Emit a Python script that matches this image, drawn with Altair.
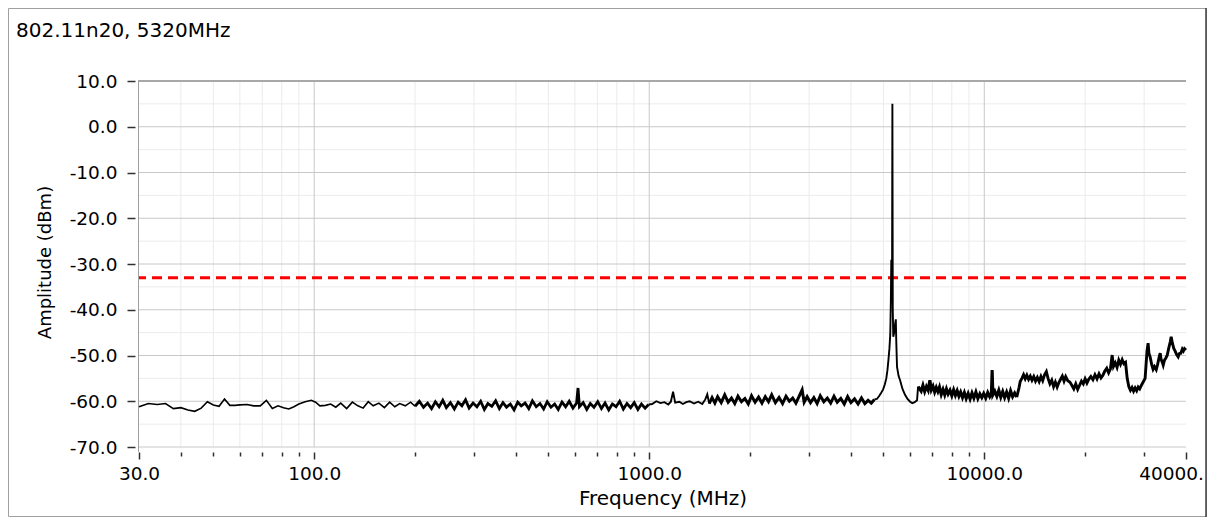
import altair as alt
import pandas as pd

# ---------------- data ----------------
title_text = "802.11n20, 5320MHz"
x_title = "Frequency (MHz)"
y_title = "Amplitude (dBm)"

limit_dbm = [-33.0]

x_major_ticks = [30, 100, 1000, 10000, 40000]
x_minor_ticks = [40, 50, 60, 70, 80, 90, 200, 300, 400, 500, 600, 700, 800, 900,
                 2000, 3000, 4000, 5000, 6000, 7000, 8000, 9000, 20000, 30000]
x_major_grid = [100, 1000, 10000]
x_minor_grid = [40, 50, 60, 70, 80, 90, 200, 300, 400, 500, 600, 700, 800, 900,
                2000, 3000, 4000, 5000, 6000, 7000, 8000, 9000, 20000, 30000]
y_major_ticks = [-70, -60, -50, -40, -30, -20, -10, 0, 10]
y_major_grid = [-70, -60, -50, -40, -30, -20, -10, 0]
y_minor_grid = [-65, -55, -45, -35, -25, -15, -5, 5]

# trace (frequency MHz, amplitude dBm), one list per stretch of the sweep
low_band = [(30, -61.2), (32, -60.5), (34, -60.7), (36, -60.5), (38, -61.6), (40, -61.4),
            (42, -61.9), (44, -62.2), (46, -61.5), (48, -60.1), (50, -60.8), (52, -61.1),
            (54, -59.5), (56, -60.9), (58, -60.9), (60, -60.8), (63, -60.7), (66, -61.0),
            (69, -61.0), (72, -59.8), (75, -61.6), (78, -61.0), (81, -61.4), (84, -61.7),
            (87, -61.2), (90, -60.6), (94, -60.1), (98, -59.8), (101, -60.2), (104, -61.0),
            (108, -60.9), (112, -60.6), (116, -61.3), (120, -60.4), (125, -61.6), (130, -60.2),
            (135, -61.0), (140, -61.5), (145, -60.1), (150, -61.0), (156, -60.4), (162, -61.4),
            (168, -60.2), (174, -61.2), (180, -60.5), (187, -61.0), (194, -60.2), (200, -61.1)]

mid_band = [(206, -60.0), (212, -61.3), (218, -60.4), (224, -61.6), (230, -60.1), (236, -61.2),
            (242, -59.8), (248, -61.4), (255, -60.3), (262, -61.7), (269, -60.2), (276, -61.0),
            (283, -59.7), (290, -61.5), (298, -60.4), (306, -61.2), (314, -60.0), (322, -61.8),
            (330, -60.5), (339, -61.1), (348, -59.9), (357, -61.6), (366, -60.3), (375, -61.3),
            (385, -60.6), (395, -61.9), (405, -60.2), (415, -61.0), (426, -60.4), (437, -61.6),
            (448, -59.9), (460, -61.2), (472, -60.5), (484, -61.7), (496, -60.1), (509, -61.3),
            (522, -60.6), (535, -61.8), (549, -60.2), (563, -61.2), (577, -60.0), (592, -61.5),
            (607, -60.4), (613, -57.1), (619, -61.2), (635, -60.3), (651, -61.8), (667, -60.5),
            (684, -61.3), (702, -60.1), (720, -61.6), (738, -60.4), (757, -61.9), (776, -60.6),
            (796, -61.2), (816, -60.0), (837, -61.7), (858, -60.5), (880, -61.4), (902, -60.3),
            (925, -61.8), (948, -60.6), (972, -61.5), (996, -60.7)]

gap_band = [(1020, -60.6), (1050, -60.0), (1080, -60.4), (1110, -60.2), (1140, -60.7),
            (1160, -60.1), (1178, -57.9), (1195, -60.3), (1230, -60.1), (1260, -60.6),
            (1290, -60.2), (1320, -60.0), (1360, -60.5), (1400, -60.1), (1440, -60.6),
            (1470, -59.6), (1490, -58.5), (1510, -60.5)]

upper_band = [(1540, -59.2), (1570, -60.4),
              (1600, -59.0), (1640, -60.3), (1680, -58.6), (1720, -60.2), (1760, -59.3),
              (1800, -60.5), (1840, -58.9), (1885, -60.1), (1930, -59.4), (1975, -60.6),
              (2020, -58.8), (2070, -60.2), (2120, -59.1), (2170, -60.4), (2220, -59.0),
              (2270, -60.1), (2320, -58.6), (2380, -60.3), (2440, -59.2), (2500, -60.5),
              (2560, -58.9), (2620, -60.0), (2680, -59.3), (2740, -60.4), (2810, -58.7),
              (2860, -57.5), (2900, -60.2), (2960, -59.0), (3030, -60.3), (3100, -59.2),
              (3170, -60.5), (3240, -58.8), (3320, -60.1), (3400, -59.3), (3480, -60.4),
              (3560, -58.9), (3640, -60.2), (3730, -59.4), (3820, -60.6), (3910, -59.0),
              (4000, -60.3), (4100, -59.5), (4200, -60.6), (4300, -59.3), (4400, -60.5),
              (4500, -59.8), (4600, -60.4), (4700, -59.6)]

carrier_peak = [(4780, -59.5), (4850, -58.9), (4920, -58.2), (4990, -57.4), (5050, -56.3),
                (5100, -55.0), (5140, -53.2), (5175, -51.0), (5210, -48.5), (5240, -45.5),
                (5262, -38.0), (5278, -29.1), (5292, -31.0), (5305, -36.0), (5318, 5.0),
                (5332, -40.0), (5350, -45.9), (5385, -45.0), (5420, -43.0), (5445, -42.1),
                (5462, -47.0), (5490, -52.5), (5550, -54.5), (5607, -55.4), (5700, -57.3),
                (5800, -58.6), (5900, -59.5), (6006, -60.1), (6100, -60.4), (6200, -60.2),
                (6300, -59.8), (6345, -56.8)]

post_band = [(6480, -57.8), (6560, -56.5), (6640, -57.9), (6720, -56.8), (6800, -57.6),
             (6880, -55.4), (6950, -57.5), (7030, -56.7), (7110, -58.0), (7190, -57.0),
             (7270, -57.9), (7350, -56.9), (7440, -58.5), (7530, -57.4), (7620, -58.6),
             (7710, -57.3), (7800, -58.4), (7900, -57.6), (8000, -58.8), (8100, -57.5),
             (8200, -58.7), (8300, -57.7), (8400, -58.9), (8500, -58.0), (8610, -59.2),
             (8720, -58.1), (8830, -59.4), (8950, -58.3), (9070, -59.5), (9190, -58.2),
             (9310, -59.3), (9440, -58.0), (9570, -59.4), (9700, -58.4), (9830, -59.2),
             (9960, -58.3), (10100, -59.3), (10240, -58.1), (10380, -59.0), (10500, -58.3),
             (10555, -53.2), (10610, -58.6), (10750, -57.8), (10900, -58.9), (11050, -57.6),
             (11200, -59.1), (11350, -57.9), (11500, -59.2), (11660, -58.0), (11820, -59.3),
             (11980, -57.7), (12150, -59.0), (12320, -58.2), (12500, -59.1)]

high_band = [(12700, -57.0), (12800, -55.7), (12950, -55.0), (13100, -54.2), (13250, -55.1),
             (13400, -54.3), (13560, -55.2), (13720, -54.5), (13880, -55.4), (14050, -54.6),
             (14220, -55.6), (14400, -54.8), (14580, -55.7), (14760, -54.6), (14940, -55.5),
             (15130, -54.2), (15320, -53.5), (15500, -55.0), (15700, -56.2), (15900, -55.4),
             (16100, -56.8), (16300, -55.8), (16500, -56.9), (16700, -55.9), (16900, -55.2),
             (17100, -54.5), (17300, -55.6), (17500, -54.6), (17750, -55.5), (18000, -55.8),
             (18250, -56.5), (18500, -57.3), (18750, -56.2), (19000, -57.4), (19250, -56.5),
             (19500, -55.6), (19750, -56.2), (20000, -55.1), (20250, -56.0), (20500, -55.2),
             (20800, -54.6), (21100, -55.3), (21400, -54.2), (21700, -55.1), (22000, -54.0),
             (22300, -54.9), (22600, -54.3), (22900, -53.4), (23200, -52.8), (23500, -53.8),
             (23800, -52.9), (24080, -49.9), (24300, -52.4), (24600, -51.6), (24900, -52.6),
             (25200, -51.0), (25500, -51.9), (25800, -50.9), (26100, -51.8), (26400, -51.5),
             (26700, -55.0), (27000, -56.8), (27300, -57.6), (27600, -57.0), (27900, -57.8),
             (28200, -57.1), (28500, -57.7), (28800, -56.9), (29100, -57.3), (29400, -56.6),
             (29800, -55.8), (30200, -55.0), (30600, -49.0), (30830, -47.3), (31000, -49.5),
             (31260, -50.3), (31600, -52.0), (31900, -53.0), (32200, -52.4), (32600, -53.1),
             (32900, -52.0), (33300, -50.2), (33500, -49.5), (33700, -50.8), (34000, -51.5),
             (34200, -52.1), (34500, -51.0), (34800, -50.6), (35140, -50.0), (35500, -48.5),
             (35900, -47.0), (36130, -45.9), (36400, -47.2), (36800, -48.5), (37100, -49.0),
             (37500, -49.8), (37900, -50.3), (38200, -49.6), (38600, -49.5), (39000, -48.6),
             (39300, -49.0), (39600, -48.5), (40000, -48.8)]

# (name, points, drawn line weight) -- the noisy stretches look heavier in the reference
stretches = [("low", low_band, 1.6), ("mid", mid_band, 2.8), ("gap", gap_band, 1.9),
             ("upper", upper_band, 3.0), ("peak", carrier_peak, 1.9),
             ("post", post_band, 3.1), ("high", high_band, 2.9)]

# ---------------- build table (each stretch starts at the previous one's last point) ----------------
rows = []
prev_last = None
for name, pts, w in stretches:
    seq = ([prev_last] if prev_last is not None else []) + pts
    for f, a in seq:
        rows.append({"freq": f, "amp": a, "part": name, "w": w})
    prev_last = pts[-1]
trace_df = pd.DataFrame(rows)

FONT = "DejaVu Sans"
W, H = 1047, 366
PAD_L, PAD_T, PAD_R, PAD_B = 131, 73, 21, 70

xscale = alt.Scale(type="log", domain=[30, 40000], nice=False)
yscale = alt.Scale(domain=[-70, 10], nice=False, zero=False)

major_test = "indexof([30, 100, 1000, 10000, 40000], datum.value) >= 0"
x_label_expr = ("datum.value == 40000 ? '40000.' : "
                "(indexof([30, 100, 1000, 10000], datum.value) >= 0 ? format(datum.value, '.1f') : '')")
y_label_expr = "(datum.value < 0 ? '-' : '') + format(abs(datum.value), '.1f')"

x_axis = alt.Axis(
    values=sorted(x_major_ticks + x_minor_ticks),
    labelExpr=x_label_expr,
    title=x_title,
    grid=False, domain=False, ticks=True, offset=5,
    tickColor="#303030", tickWidth=1.5,
    tickSize={"condition": {"test": major_test, "value": 7}, "value": 4},
    labelOffset={"condition": {"test": "datum.value == 40000", "value": -15}, "value": 0},
    labelPadding=5, labelFlush=False, labelOverlap=False,
    labelFont=FONT, labelFontSize=18.5, labelColor="#000000",
    titleFont=FONT, titleFontSize=20, titleFontWeight="normal", titleColor="#000000",
    titleX=W / 2, titleY=46, titleBaseline="middle", titleAlign="center",
)
y_axis = alt.Axis(
    values=y_major_ticks,
    labelExpr=y_label_expr,
    title=y_title,
    grid=False, domain=False, ticks=True, offset=4,
    tickColor="#303030", tickWidth=1.5, tickSize=8,
    labelPadding=10, labelFont=FONT, labelFontSize=18.5, labelColor="#000000",
    titleFont=FONT, titleFontSize=18, titleFontWeight="normal", titleColor="#000000",
    titleAngle=-90, titleX=-90, titleY=181, titleBaseline="middle", titleAlign="center",
)

# trace layer comes first so that its axes are the ones that are drawn
trace_line = alt.Chart(trace_df).mark_line(color="#000000").encode(
    x=alt.X("freq:Q", scale=xscale, axis=x_axis),
    y=alt.Y("amp:Q", scale=yscale, axis=y_axis),
    detail="part:N",
    strokeWidth=alt.StrokeWidth("w:Q", scale=None, legend=None),
    order="freq:Q",
)

grid_xminor = alt.Chart(pd.DataFrame({"freq": x_minor_grid})).mark_rule(
    color="#ebebeb", strokeWidth=1).encode(x=alt.X("freq:Q", scale=xscale))
grid_xmajor = alt.Chart(pd.DataFrame({"freq": x_major_grid})).mark_rule(
    color="#c8c8c8", strokeWidth=1).encode(x=alt.X("freq:Q", scale=xscale))
grid_yminor = alt.Chart(pd.DataFrame({"amp": y_minor_grid})).mark_rule(
    color="#ebebeb", strokeWidth=1).encode(y=alt.Y("amp:Q", scale=yscale))
grid_ymajor = alt.Chart(pd.DataFrame({"amp": y_major_grid})).mark_rule(
    color="#c8c8c8", strokeWidth=1).encode(y=alt.Y("amp:Q", scale=yscale))

one_row = alt.Data(values=[{"k": 1}])
top_border = alt.Chart(one_row).mark_rule(color="#a8a8a8", strokeWidth=2).encode(
    x=alt.value(-1), x2=alt.value(W), y=alt.value(0))
left_border = alt.Chart(one_row).mark_rule(color="#a0a0a0", strokeWidth=1).encode(
    x=alt.value(-0.5), y=alt.value(0), y2=alt.value(H + 5))

limit_line = alt.Chart(pd.DataFrame({"amp": limit_dbm})).mark_rule(
    color="#ff0000", strokeWidth=3, strokeDash=[10, 6]).encode(
    y=alt.Y("amp:Q", scale=yscale))

title_mark = alt.Chart(one_row).mark_text(
    align="left", baseline="alphabetic", font=FONT, fontSize=20, color="#000000").encode(
    x=alt.value(16 - 139), y=alt.value(-44.5), text=alt.value(title_text))

frame = alt.Chart(one_row).mark_rect(fill="transparent", stroke="#a0a0a0", strokeWidth=1).encode(
    x=alt.value(-PAD_L + 0.5), x2=alt.value(W + PAD_R - 0.5),
    y=alt.value(-PAD_T + 0.5), y2=alt.value(H + PAD_B - 0.5))
frame_right = alt.Chart(one_row).mark_rule(color="#404040", strokeWidth=1.5).encode(
    x=alt.value(W + PAD_R - 1), y=alt.value(-PAD_T), y2=alt.value(H + PAD_B))

chart = alt.layer(
    trace_line, grid_xminor, grid_yminor, grid_xmajor, grid_ymajor,
    top_border, left_border, limit_line, title_mark, frame, frame_right,
).properties(
    width=W, height=H,
    autosize=alt.AutoSizeParams(type="none"),
    padding={"left": PAD_L, "top": PAD_T, "right": PAD_R, "bottom": PAD_B},
    background="#ffffff",
).configure_view(stroke=None)

# draw the trace above the grid: move it after the grid layers in the layer list
spec = chart.to_dict()
layers = spec["layer"]
spec["layer"] = layers[1:8] + [layers[0]] + layers[8:]
chart = alt.LayerChart.from_dict(spec)

chart.save("out.html", embed_options={"renderer": "svg", "actions": False})
